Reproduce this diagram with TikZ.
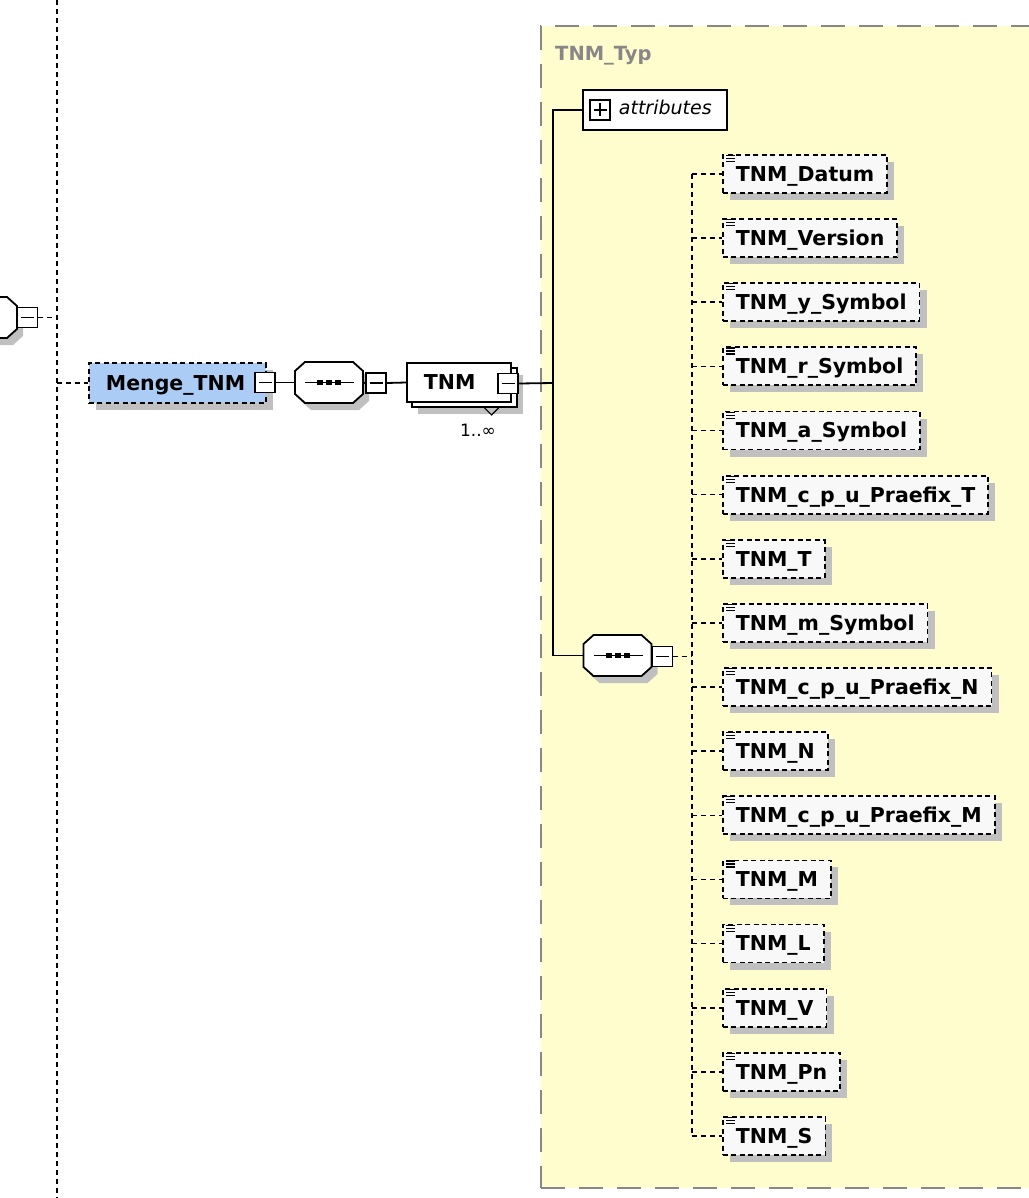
\documentclass[tikz,border=0pt]{standalone}
\usepackage{fontspec}
\newfontfamily\dv{DejaVu Sans}
\usetikzlibrary{shadows}
\definecolor{paneyellow}{RGB}{255,253,206}
\definecolor{mengeblue}{RGB}{171,205,245}
\definecolor{elfill}{RGB}{248,248,248}
\definecolor{shadowgray}{RGB}{192,192,192}
\definecolor{panelborder}{RGB}{135,135,135}
\newcommand\seqoct[1]{%
  \begin{scope}[shift={(#1.center)}]
    \fill[shadowgray, shift={(6,7)}] (-24,-20.5) -- (24,-20.5) -- (34,-11.5) -- (34,11.5) -- (24,20.5) -- (-24,20.5) -- (-34,11.5) -- (-34,-11.5) -- cycle;
    \filldraw[fill=white, line width=1.8pt] (-24,-20.5) -- (24,-20.5) -- (34,-11.5) -- (34,11.5) -- (24,20.5) -- (-24,20.5) -- (-34,11.5) -- (-34,-11.5) -- cycle;
  \end{scope}}
\newcommand\seqdots[1]{%
  \begin{scope}[shift={(#1.center)}]
    \draw[line width=1.5pt] (-24,0) -- (25,0);
    \foreach \dx in {-9,0,9} \fill (\dx-3,-2.5) rectangle (\dx+3,2.5);
  \end{scope}}
\begin{document}
\begin{tikzpicture}[x=1pt,y=-1pt,
  dashline/.style={line width=1.6pt, dash pattern=on 5pt off 4pt},
  conline/.style={line width=1.8pt},
  shad/.style={drop shadow={shadow xshift=7pt, shadow yshift=-7pt, fill=shadowgray, opacity=1}},
  minusbox/.style={draw, fill=white, line width=1.7pt, minimum size=20pt, inner sep=0pt,
    path picture={\draw[line width=1.4pt] ([xshift=3.5pt]path picture bounding box.west) -- ([xshift=-3.5pt]path picture bounding box.east);}},
  plusbox/.style={draw, fill=white, line width=1.7pt, minimum size=20pt, inner sep=0pt,
    path picture={\draw[line width=1.4pt] ([xshift=3.5pt]path picture bounding box.west) -- ([xshift=-3.5pt]path picture bounding box.east);
      \draw[line width=1.4pt] ([yshift=-3.5pt]path picture bounding box.north) -- ([yshift=3.5pt]path picture bounding box.south);}},
  boldtext/.style={font=\dv\bfseries\fontsize{20.5}{24}\selectfont},
  elem/.style={boldtext, draw, line width=1.8pt, dash pattern=on 5pt off 3.5pt, fill=elfill,
    minimum height=38pt, text height=14.8pt, text depth=0pt, inner xsep=13pt, inner ysep=0pt, anchor=west, shad},
  seqnode/.style={minimum width=68pt, minimum height=41pt, inner sep=0pt},
]
\useasboundingbox (0,0) rectangle (1028,1198);
\fill[white] (0,0) rectangle (1028,1198);

% type panel
\node[draw=panelborder, fill=paneyellow, line width=2pt, dash pattern=on 24pt off 14pt,
  minimum width=540pt, minimum height=1162pt, anchor=north west, inner sep=0pt] (typ) at (540,25) {};
\node[font=\dv\bfseries\fontsize{19.5}{22}\selectfont, text=panelborder, anchor=base west, inner sep=0pt] (typlab) at (555,61) {TNM\_Typ};

% left vertical dashed line
\coordinate (ltop) at (57,0);
\coordinate (lbot) at (57,1198);
\draw[dashline] (ltop) -- (lbot);

% partial sequence at the left edge
\node[seqnode] (s0) at (-17,317.5) {};
\seqoct{s0}
\node[minusbox] (s0m) at (27.5,317.5) {};
\coordinate (l0) at (57,317.5);
\draw[dashline] (s0m.east) -- (l0);

% Menge_TNM
\node[boldtext, draw, line width=1.8pt, dash pattern=on 5pt off 3.5pt, fill=mengeblue, shad,
  minimum height=40pt, text height=14.8pt, text depth=0pt, inner ysep=0pt, inner xsep=17pt,
  text width=143pt, anchor=west] (menge) at (88,383) {Menge\_TNM};
\coordinate (lm) at (57,383);
\draw[dashline] (lm) -- (menge.west);
\node[minusbox] (mm) at (265,382.5) {};

% first sequence
\node[seqnode] (s1) at (329,382.5) {};
\seqoct{s1}
\seqdots{s1}
\node[minusbox] (s1m) at (376,383) {};
\draw[conline] (mm.east) -- (s1.west);
\draw[conline] (s1.east) -- (s1m.west);

% TNM element (repeating)
\node[draw, fill=white, line width=1.8pt, minimum width=105pt, minimum height=39pt, inner sep=0pt,
  drop shadow={shadow xshift=6pt, shadow yshift=-7pt, fill=shadowgray, opacity=1}] (tnmback) at (464.5,387.5) {};
\node[boldtext, draw, fill=white, line width=1.8pt, minimum height=39pt, text height=14.8pt, text depth=0pt,
  inner ysep=0pt, inner xsep=17pt, text width=70pt, anchor=west] (tnm) at (406,382.5) {TNM};
\node[minusbox] (tm) at (508,383.5) {};
\draw[conline] (s1m.east) -- (tnm.west);
\draw[line width=1.2pt] (tnmback.south) ++(20,0) -- ++(7,7) -- ++(7,-7);
\node[font=\dv\fontsize{17}{20}\selectfont, inner sep=0pt] (mult) at (478,430) {1..∞};

% junction
\coordinate (jx) at (553,383);
\draw[conline] (tm.east) -- (jx);

% attributes
\node[font=\dv\itshape\fontsize{19}{22}\selectfont, draw, fill=white, line width=1.8pt, minimum height=40pt,
  inner xsep=15pt, inner ysep=0pt, text height=13pt, text depth=3pt, anchor=west] (attr) at (582,110) {\hspace*{21pt}attributes};
\node[plusbox] (ap) at (600,110) {};

% second sequence
\node[seqnode] (s2) at (617.5,655.5) {};
\seqoct{s2}
\seqdots{s2}
\node[minusbox] (s2m) at (662.5,656.5) {};

\draw[conline] (attr.west) -| (jx) |- (s2.west);

\coordinate (jy) at (692,656.5);
\draw[dashline] (s2m.east) -- (jy);

\foreach \lab [count=\i from 0] in {TNM\_Datum, TNM\_Version, TNM\_y\_Symbol, TNM\_r\_Symbol, TNM\_a\_Symbol,
  TNM\_c\_p\_u\_Praefix\_T, TNM\_T, TNM\_m\_Symbol, TNM\_c\_p\_u\_Praefix\_N, TNM\_N,
  TNM\_c\_p\_u\_Praefix\_M, TNM\_M, TNM\_L, TNM\_V, TNM\_Pn, TNM\_S} {
  \node[elem] (e\i) at (722,{174+64.13*\i}) {\lab};
  \foreach \dy in {1.5,4.5,7.5}
    \draw[line width=1.1pt] ([xshift=4pt,yshift=-\dy pt]e\i.north west) -- ++(9,0);
  \coordinate (c\i) at (e\i.west -| jy);
  \draw[dashline] (c\i) -- (e\i.west);
}
\draw[dashline] (c0) -- (c15);
\end{tikzpicture}
\end{document}
